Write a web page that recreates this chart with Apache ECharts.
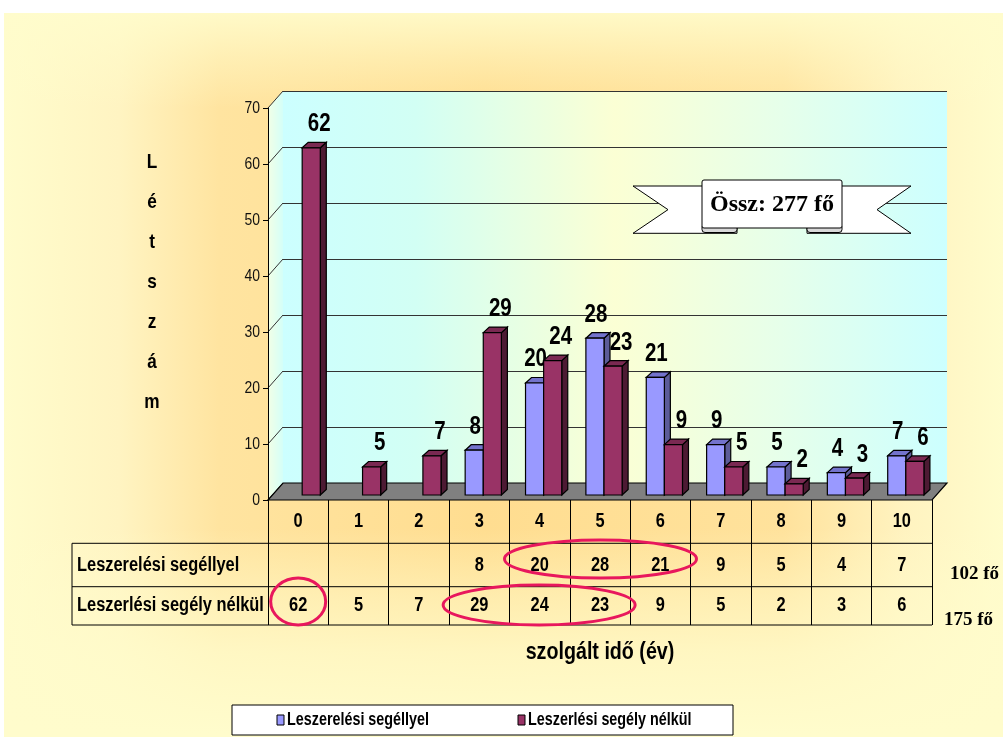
<!DOCTYPE html>
<html>
<head>
<meta charset="utf-8">
<title>Létszám – szolgált idő</title>
<script src="https://cdn.jsdelivr.net/npm/echarts@6/dist/echarts.min.js"></script>
<style>
  html, body { margin: 0; padding: 0; background: #ffffff; }
  #wrap { position: relative; width: 1003px; height: 737px; overflow: hidden; }
  #panel {
    position: absolute; left: 4px; top: 13px; width: 999px; height: 724px;
    background:
      linear-gradient(to bottom,
        rgba(255,252,204,0.9) 0px, rgba(255,252,204,0.45) 45px, rgba(255,252,204,0) 95px,
        rgba(255,252,204,0) 515px, rgba(255,252,204,0.5) 585px, rgba(255,252,204,0.8) 640px, rgba(255,252,204,1) 720px),
      linear-gradient(to right,
        #fffccc 0px, #fff4c2 115px, #ffe4a0 215px, #ffdd90 480px, #ffe29c 780px, #fff3c0 900px, #fffccc 999px);
  }
  #c { position: absolute; left: 0; top: 0; width: 1003px; height: 737px; }
</style>
</head>
<body>
<div id="wrap"><div id="panel"></div><div id="c"></div></div>
<script>
// ---- data ----
const categories = ['0', '1', '2', '3', '4', '5', '6', '7', '8', '9', '10'];
const withAid = [null, null, null, 8, 20, 28, 21, 9, 5, 4, 7];
const withoutAid = [62, 5, 7, 29, 24, 23, 9, 5, 2, 3, 6];
const seriesNames = ['Leszerelési segéllyel', 'Leszerlési segély nélkül'];
const yTicks = [0, 10, 20, 30, 40, 50, 60, 70];
const yTitle = 'Létszám';
const xTitle = 'szolgált idő (év)';
const unit = 'fő';
const totalLabel = 'Össz:';

// ---- look ----
const SANS = '"Liberation Sans", Arial, sans-serif';
const SERIF = '"Liberation Serif", "Times New Roman", serif';
const NARROW_SCALE = 0.82;   // condensed lettering
const palette = [
  { front: '#9999ff', top: '#7373cc', side: '#5c5c99', labelDx: 1 },
  { front: '#993366', top: '#7a2952', side: '#4d1a33', labelDx: 8 }
];
const DEPTH_X = 6, DEPTH_Y = 5.5;

const sum = arr => arr.reduce((a, v) => a + (v || 0), 0);
const rowTotals = [sum(withAid), sum(withoutAid)];

// condensed text element anchored at (x, y)
function ntext(str, x, y, size, opts) {
  opts = opts || {};
  const align = opts.align || 'center';
  const vAlign = opts.vAlign || 'middle';
  return {
    type: 'text', x: x, y: y, scaleX: opts.scale || NARROW_SCALE, z: opts.z == null ? 4 : opts.z, z2: opts.z2 || 0, silent: true,
    style: { text: str, x: 0, y: 0, textAlign: align, textVerticalAlign: vAlign, align: align, verticalAlign: vAlign,
             font: (opts.weight || 'bold') + ' ' + size + 'px ' + SANS, fill: opts.color || '#000' }
  };
}

function bar3d(si) {
  const pal = palette[si];
  return function (params, api) {
    const v = api.value(1);
    if (v == null || isNaN(v)) return null;
    const i = api.value(0);
    const top = api.coord([i, v]);
    const base = api.coord([i, 0]);
    const band = api.size([1, 0])[0];
    const w = band * 0.3;
    const x0 = si === 0 ? top[0] - w : top[0];
    const x1 = x0 + w;
    const yT = top[1], yB = base[1];
    const ln = { stroke: '#000', lineWidth: 1.2 };
    const label = ntext(String(v), (x0 + x1) / 2 + pal.labelDx, yT - 11, 25, { vAlign: 'bottom', z2: 50 });
    delete label.z; delete label.silent;
    return {
      type: 'group',
      children: [
        { type: 'polygon', shape: { points: [[x1, yB], [x1 + DEPTH_X, yB - DEPTH_Y], [x1 + DEPTH_X, yT - DEPTH_Y], [x1, yT]] },
          style: Object.assign({ fill: pal.side }, ln) },
        { type: 'polygon', shape: { points: [[x0, yT], [x0 + DEPTH_X, yT - DEPTH_Y], [x1 + DEPTH_X, yT - DEPTH_Y], [x1, yT]] },
          style: Object.assign({ fill: pal.top }, ln) },
        { type: 'rect', shape: { x: x0, y: yT, width: w, height: yB - yT },
          style: Object.assign({ fill: pal.front }, ln) },
        label
      ]
    };
  };
}

const chart = echarts.init(document.getElementById('c'), null, { renderer: 'canvas' });

const option = {
  backgroundColor: 'transparent',
  animation: false,
  grid: [
    { left: 272, top: 103, width: 664, height: 392 },   // bars
    { left: 268, top: 108, width: 664, height: 392 },   // front value axis + category row
    { left: 283, top: 91, width: 664, height: 392 }     // back wall
  ],
  xAxis: [
    { gridIndex: 0, type: 'category', data: categories, show: false },
    { gridIndex: 1, type: 'category', data: categories,
      axisLine: { show: false },
      axisTick: { show: true, length: 125, lineStyle: { color: '#000', width: 1 } },
      axisLabel: { show: false } },
    { gridIndex: 2, type: 'category', data: categories, show: false }
  ],
  yAxis: [
    { gridIndex: 0, type: 'value', min: 0, max: 70, show: false },
    { gridIndex: 1, type: 'value', min: 0, max: 70, interval: 10,
      axisLine: { show: true, lineStyle: { color: '#000', width: 1 } },
      axisTick: { show: true, length: 5, lineStyle: { color: '#000' } },
      axisLabel: { show: false },
      splitLine: { show: false } },
    { gridIndex: 2, type: 'value', min: 0, max: 70, interval: 10,
      axisLine: { show: false }, axisTick: { show: false }, axisLabel: { show: false },
      splitLine: { show: true, lineStyle: { color: '#333', width: 1 } } }
  ],
  series: [
    { name: seriesNames[0], type: 'custom', xAxisIndex: 0, yAxisIndex: 0, z: 5,
      itemStyle: { color: palette[0].front },
      renderItem: bar3d(0), data: withAid.map((v, i) => [i, v]) },
    { name: seriesNames[1], type: 'custom', xAxisIndex: 0, yAxisIndex: 0, z: 6,
      itemStyle: { color: palette[1].front },
      renderItem: bar3d(1), data: withoutAid.map((v, i) => [i, v]) }
  ]
};
chart.setOption(option);

// ---- decorations placed from the axes' own pixel mapping ----
const frontY = v => chart.convertToPixel({ yAxisIndex: 1 }, v);
const backY = v => chart.convertToPixel({ yAxisIndex: 2 }, v);
const colX = i => chart.convertToPixel({ xAxisIndex: 1 }, i);
const colW = 664 / categories.length;
const axisX = colX(0) - colW / 2;
const tableRight = colX(categories.length - 1) + colW / 2;
const wallLeft = 283, wallRight = 947;
const floorFront = frontY(0), floorBack = backY(0);

const row1Top = 543.3, row2Top = 586.7, tableBottom = 625, tableLeft = 72;
const headY = (floorFront + row1Top) / 2;
const row1Y = (row1Top + row2Top) / 2, row2Y = (row2Top + tableBottom) / 2;

const g = [];

// back wall
g.push({ type: 'rect', z: -10, silent: true,
  shape: { x: wallLeft, y: backY(70), width: wallRight - wallLeft, height: floorBack - backY(70) },
  style: { fill: new echarts.graphic.LinearGradient(0, 0, 1, 0, [
    { offset: 0, color: '#ccffff' }, { offset: 0.2, color: '#d2fff4' }, { offset: 0.5, color: '#fbffd4' },
    { offset: 0.75, color: '#e6ffea' }, { offset: 1, color: '#ccffff' }]) } });
// left side wall
g.push({ type: 'polygon', z: -9, silent: true,
  shape: { points: [[axisX, frontY(0)], [wallLeft, backY(0)], [wallLeft, backY(70)], [axisX, frontY(70)]] },
  style: { fill: new echarts.graphic.LinearGradient(0, 0, 1, 0, [
    { offset: 0, color: '#f2ffe6' }, { offset: 1, color: '#d4fff8' }]), stroke: null } });
yTicks.forEach(v => {
  g.push({ type: 'line', z: -8, silent: true,
    shape: { x1: axisX, y1: frontY(v), x2: wallLeft, y2: backY(v) },
    style: { stroke: '#333', lineWidth: 1 } });
  // value axis tick label
  g.push(ntext(String(v), axisX - 8, frontY(v), 17, { align: 'right', weight: 'normal', color: '#111' }));
});
// floor
g.push({ type: 'polygon', z: 1, silent: true,
  shape: { points: [[axisX, floorFront], [wallLeft, floorBack], [wallRight, floorBack], [tableRight, floorFront]] },
  style: { fill: '#808080', stroke: '#000', lineWidth: 1.2 } });

// data table: category header + two rows
categories.forEach((c, i) => g.push(ntext(c, colX(i), headY, 20)));
[row1Top, row2Top, tableBottom].forEach(y => {
  g.push({ type: 'line', z: 3, silent: true, shape: { x1: tableLeft, y1: y, x2: tableRight, y2: y },
    style: { stroke: '#000', lineWidth: 1 } });
});
g.push({ type: 'line', z: 3, silent: true, shape: { x1: tableLeft, y1: row1Top, x2: tableLeft, y2: tableBottom },
  style: { stroke: '#000', lineWidth: 1 } });
[[withAid, row1Y], [withoutAid, row2Y]].forEach(([arr, y], r) => {
  g.push(ntext(seriesNames[r], tableLeft + 5, y, 20, { align: 'left' }));
  arr.forEach((v, i) => {
    if (v == null) return;
    g.push(ntext(String(v), colX(i), y, 20));
  });
});
// row totals
[[rowTotals[0], 950, 574], [rowTotals[1], 944, 620]].forEach(([t, x, y]) => {
  g.push({ type: 'text', z: 4, silent: true,
    style: { text: t + ' ' + unit, x: x, y: y, textAlign: 'left', textVerticalAlign: 'middle',
             align: 'left', verticalAlign: 'middle', font: 'bold 19px ' + SERIF, fill: '#000' } });
});

// highlight rings
const ring = (cx, cy, rx, ry) => ({ type: 'ellipse', z: 8, silent: true,
  shape: { cx, cy, rx, ry }, style: { fill: null, stroke: '#e8175d', lineWidth: 3 } });
g.push(ring(colX(0), 601.5, 27.5, 23.5));
g.push(ring((colX(4) + colX(6)) / 2 + 0.5, 559, 96, 19));
g.push(ring((colX(3) + colX(5)) / 2 - 0.5, 605, 96, 20));

// axis titles
Array.from(yTitle).forEach((ch, k) => g.push(ntext(ch, 152, 162 + k * 40, 21)));
g.push(ntext(xTitle, 600, 652, 24));

// ribbon banner with grand total
const bx = 702, by = 180, bw = 140, bh = 48;
const tailTop = 186, tailBot = 233.3;
const bannerStyle = { fill: '#ffffff', stroke: '#000', lineWidth: 1 };
g.push({ type: 'polygon', z: 9, silent: true,
  shape: { points: [[bx + 35, tailTop], [633, tailTop], [668, (tailTop + tailBot) / 2], [633, tailBot], [bx + 35, tailBot]] },
  style: bannerStyle });
g.push({ type: 'polygon', z: 9, silent: true,
  shape: { points: [[bx + bw - 35, tailTop], [911, tailTop], [877, (tailTop + tailBot) / 2], [911, tailBot], [bx + bw - 35, tailBot]] },
  style: bannerStyle });
g.push({ type: 'rect', z: 10, silent: true, shape: { x: bx, y: by + bh - 4, width: 35, height: 8.5, r: 3 },
  style: { fill: '#d9d9d9', stroke: '#000', lineWidth: 1 } });
g.push({ type: 'rect', z: 10, silent: true, shape: { x: bx + bw - 35, y: by + bh - 4, width: 35, height: 8.5, r: 3 },
  style: { fill: '#d9d9d9', stroke: '#000', lineWidth: 1 } });
g.push({ type: 'rect', z: 11, silent: true, shape: { x: bx, y: by, width: bw, height: bh, r: 2 },
  style: bannerStyle });
g.push({ type: 'text', z: 12, silent: true,
  style: { text: totalLabel + ' ' + sum(rowTotals) + ' ' + unit, x: bx + bw / 2, y: by + bh / 2 + 1,
           textAlign: 'center', textVerticalAlign: 'middle', align: 'center', verticalAlign: 'middle',
           font: 'bold 24px ' + SERIF, fill: '#000' } });

// legend
g.push({ type: 'rect', z: 3, silent: true, shape: { x: 232, y: 705, width: 501, height: 30 },
  style: { fill: '#ffffff', stroke: '#000', lineWidth: 1 } });
[[277, 0], [518, 1]].forEach(([lx, si]) => {
  g.push({ type: 'rect', z: 4, silent: true, shape: { x: lx, y: 715, width: 7, height: 10 },
    style: { fill: palette[si].front, stroke: '#000', lineWidth: 1 } });
  g.push(ntext(seriesNames[si], lx + 10, 720.5, 17.5, { align: 'left' }));
});

chart.setOption({ graphic: { elements: g } });
</script>
</body>
</html>
